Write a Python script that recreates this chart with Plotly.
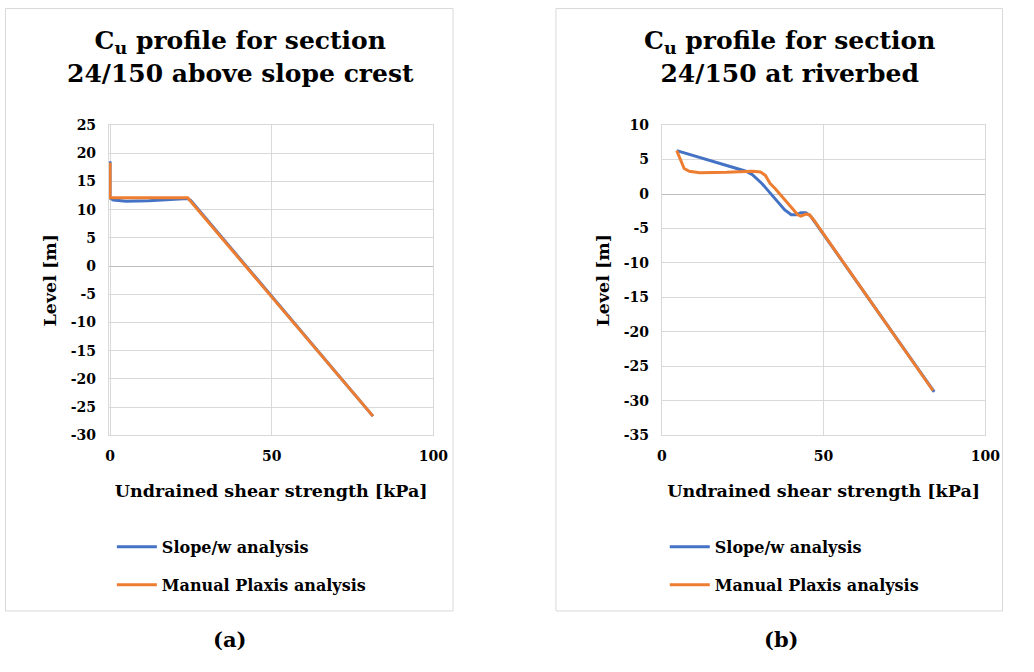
import plotly.graph_objects as go

# ---------------- data ----------------
# Panel (a): above slope crest
a_slope_x = [0, 0, 1, 5, 12, 20, 24, 25, 81.3]
a_slope_y = [18.6, 12.1, 11.7, 11.5, 11.6, 11.9, 12.0, 11.6, -26.6]
a_plaxis_x = [0, 0, 24, 81.3]
a_plaxis_y = [18.3, 12.1, 12.1, -26.6]

# Panel (b): at riverbed
b_slope_x = [4.6, 26, 28, 31, 38, 40, 41.5, 43, 44.5, 46, 84.2]
b_slope_y = [6.3, 3.3, 2.8, 1.5, -2.3, -3.0, -3.0, -2.7, -2.7, -3.2, -28.7]
b_plaxis_x = [4.6, 6.9, 8.5, 11.7, 20, 28, 30.5, 32, 33.5, 35, 42, 43, 44.5, 45.6, 47, 83.8]
b_plaxis_y = [6.3, 3.7, 3.3, 3.1, 3.15, 3.3, 3.2, 2.7, 1.5, 0.8, -3.0, -3.2, -2.9, -3.0, -3.8, -28.5]

x_ticks = [0, 50, 100]
a_y_ticks = list(range(-30, 26, 5))
b_y_ticks = list(range(-35, 11, 5))
a_y_labels = [str(v) for v in a_y_ticks]   # plain hyphen minus, as in the source
b_y_labels = [str(v) for v in b_y_ticks]

titles = ["C<sub>u</sub> profile for section<br>24/150 above slope crest",
          "C<sub>u</sub> profile for section<br>24/150 at riverbed"]
captions = ["(a)", "(b)"]
series_names = ["Slope/w analysis", "Manual Plaxis analysis"]
colors = ["#4472C4", "#ED7D31"]

FONT = "DejaVu Serif"
# the page body keeps an 8px margin, so the figure is sized to fit inside it
W, H = 1018, 656

fig = go.Figure()
panels = [
    dict(xs=[a_slope_x, a_plaxis_x], ys=[a_slope_y, a_plaxis_y], xa="x", ya="y", leg="legend"),
    dict(xs=[b_slope_x, b_plaxis_x], ys=[b_slope_y, b_plaxis_y], xa="x2", ya="y2", leg="legend2"),
]
for p in panels:
    for i in range(2):
        fig.add_trace(go.Scatter(
            x=p["xs"][i], y=p["ys"][i], mode="lines", name=series_names[i],
            line=dict(color=colors[i], width=3), xaxis=p["xa"], yaxis=p["ya"],
            legend=p["leg"], legendgroup=p["leg"] + str(i)))

tick_font = dict(family=FONT, size=14, color="#000000", weight="bold")
title_font = dict(family=FONT, size=17.5, color="#000000", weight="bold")
grid = "#d9d9d9"

def xaxis(domain, anchor, rng):
    return dict(domain=domain, anchor=anchor, range=rng, tickvals=x_ticks,
                showgrid=True, gridcolor=grid, gridwidth=1, zeroline=False,
                showline=True, mirror=True, linecolor=grid, linewidth=1,
                ticks="", tickfont=tick_font, ticklabelstandoff=8,
                title=dict(text="Undrained shear strength [kPa]", font=title_font, standoff=21))

def yaxis(domain, anchor, rng, tv, tt):
    return dict(domain=domain, anchor=anchor, range=rng, tickvals=tv, ticktext=tt,
                showgrid=True, gridcolor=grid, gridwidth=1,
                zeroline=True, zerolinecolor="#bfbfbf", zerolinewidth=1,
                showline=True, mirror=True, linecolor=grid, linewidth=1,
                ticks="", tickfont=tick_font, ticklabelstandoff=9,
                title=dict(text="Level [m]", font=title_font, standoff=9))

legend_font = dict(family=FONT, size=16, color="#000000", weight="bold")
ydom = [1 - 438 / H, 1 - 120 / H]
fig.update_layout(
    width=W, height=H, margin=dict(l=0, r=0, t=0, b=0),
    paper_bgcolor="white", plot_bgcolor="white",
    xaxis=xaxis([106 / W, 437 / W], "y", [-0.35, 100]),
    yaxis=yaxis(ydom, "x", [-30, 25], a_y_ticks, a_y_labels),
    xaxis2=xaxis([670 / W, 1000 / W], "y2", [0, 100]),
    yaxis2=yaxis(ydom, "x2", [-35, 10], b_y_ticks, b_y_labels),
    legend=dict(x=109 / W, y=1 - 535 / H, xanchor="left", yanchor="top",
                font=legend_font, traceorder="grouped", tracegroupgap=14,
                itemwidth=40, bgcolor="rgba(0,0,0,0)"),
    legend2=dict(x=673 / W, y=1 - 535 / H, xanchor="left", yanchor="top",
                 font=legend_font, traceorder="grouped", tracegroupgap=14,
                 itemwidth=40, bgcolor="rgba(0,0,0,0)"),
    showlegend=True,
)

# panel frames
for x0, x1 in [(0.5, 457), (562, 1017.5)]:
    fig.add_shape(type="rect", xref="paper", yref="paper",
                  x0=x0 / W, x1=x1 / W, y0=1 - 618 / H, y1=1 - 0.5 / H,
                  line=dict(color="#d9d9d9", width=1), fillcolor="rgba(0,0,0,0)", layer="below")

# titles
for cx, t in [(240, titles[0]), (800, titles[1])]:
    fig.add_annotation(text=t, xref="paper", yref="paper", x=cx / W, y=1 - 50 / H,
                       xanchor="center", yanchor="middle", showarrow=False, align="center",
                       font=dict(family=FONT, size=25, color="#000000", weight="bold"))
# captions
for cx, c in [(229, captions[0]), (792, captions[1])]:
    fig.add_annotation(text=c, xref="paper", yref="paper", x=cx / W, y=1 - 647 / H,
                       xanchor="center", yanchor="middle", showarrow=False,
                       font=dict(family=FONT, size=21, color="#000000", weight="bold"))

fig.write_html("out.html")
